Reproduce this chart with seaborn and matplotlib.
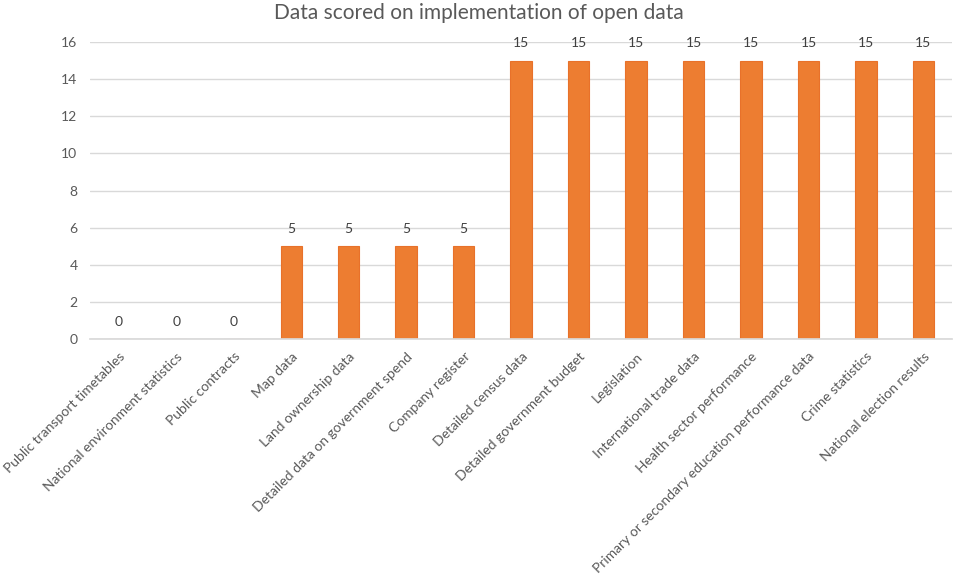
import matplotlib
matplotlib.use("Agg")
import matplotlib.pyplot as plt
import seaborn as sns
import pandas as pd

categories = [
    "Public transport timetables",
    "National environment statistics",
    "Public contracts",
    "Map data",
    "Land ownership data",
    "Detailed data on government spend",
    "Company register",
    "Detailed census data",
    "Detailed government budget",
    "Legislation",
    "International trade data",
    "Health sector performance",
    "Primary or secondary education performance data",
    "Crime statistics",
    "National election results",
]
scores = [0, 0, 0, 5, 5, 5, 5, 15, 15, 15, 15, 15, 15, 15, 15]
y_ticks = [0, 2, 4, 6, 8, 10, 12, 14, 16]

df = pd.DataFrame({"Data": categories, "Score": scores})

sns.set_theme(style="white")
plt.rcParams["font.family"] = ["Lato", "DejaVu Sans"]

fig = plt.figure(figsize=(9.57, 5.75), dpi=100)
ax = fig.add_axes([0.094, 0.41, 0.901, 0.517])

sns.barplot(data=df, x="Data", y="Score", color="#ED7D31", width=0.37,
            edgecolor="#E8712A", linewidth=0.8, saturation=1, ax=ax)

ax.set_ylim(0, 16)
ax.set_yticks(y_ticks)
ax.yaxis.grid(True, color="#D9D9D9", linewidth=1)
ax.set_axisbelow(True)
for s in ["top", "right", "left"]:
    ax.spines[s].set_visible(False)
ax.spines["bottom"].set_color("#D9D9D9")
ax.tick_params(axis="both", length=0, labelsize=10, colors="#595959")
ax.tick_params(axis="y", pad=9)
ax.tick_params(axis="x", pad=8)
ax.set_xticks(range(len(categories)))
ax.set_xticklabels(categories, rotation=45, ha="right", rotation_mode="anchor")
ax.set_xlabel("")
ax.set_ylabel("")

# value labels
for i, v in enumerate(scores):
    ax.annotate(str(v), (i, v), xytext=(0, 8), textcoords="offset points",
                ha="center", va="bottom", fontsize=10, color="#404040")

fig.suptitle("Data scored on implementation of open data", y=0.995,
             fontsize=15, color="#595959")

fig.savefig("out.png", dpi=100)
